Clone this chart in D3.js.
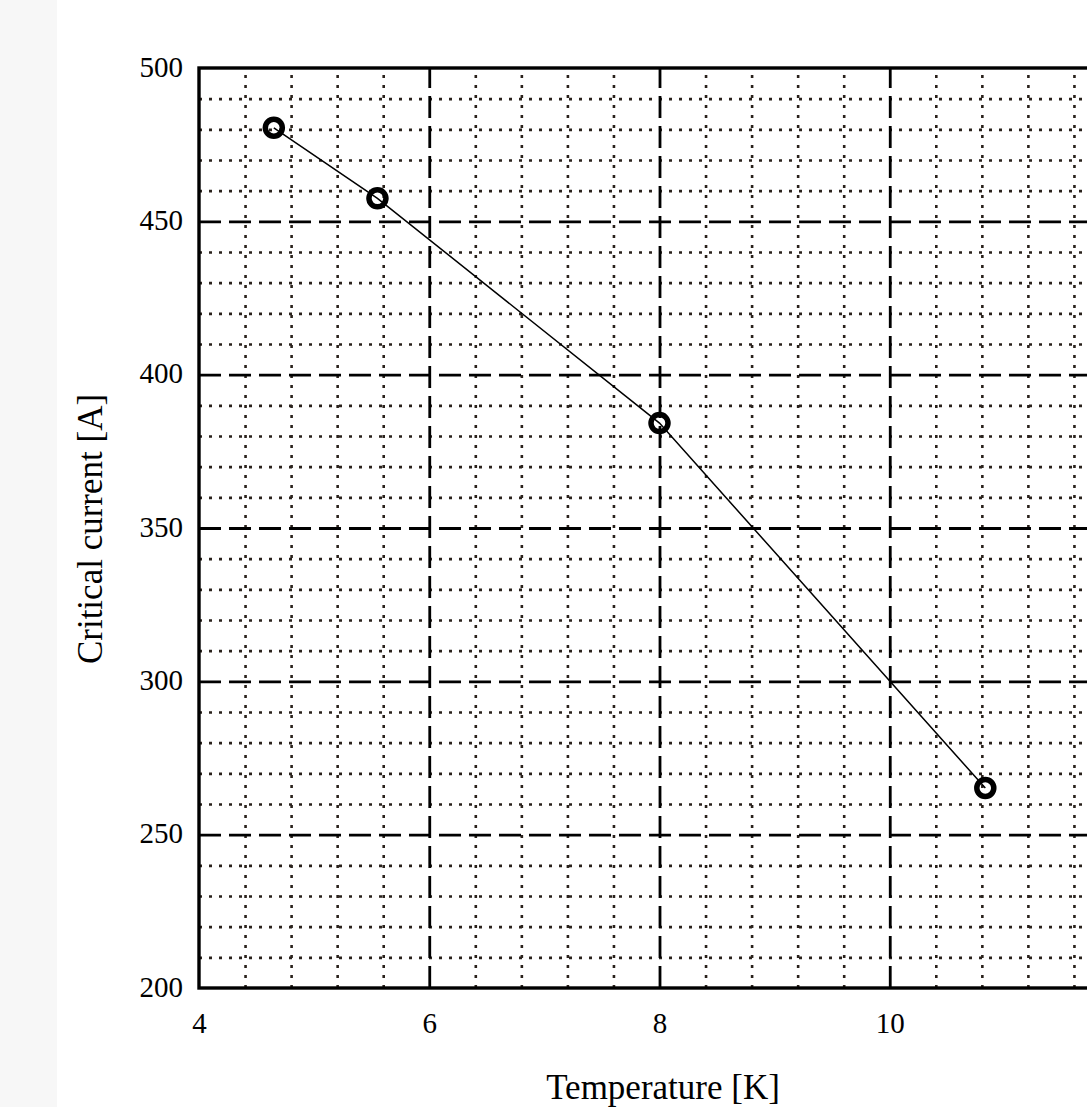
<!DOCTYPE html>
<html>
<head>
<meta charset="utf-8">
<script src="https://cdn.jsdelivr.net/npm/d3@7"></script>
<style>
  html, body { margin: 0; padding: 0; background: #fff; }
  svg { display: block; }
  text { font-family: "Liberation Serif", "DejaVu Serif", serif; fill: #000; }
</style>
</head>
<body>
<svg id="chart" width="1087" height="1107"></svg>
<script>
// ---- data ----
const temperature = [4.65, 5.55, 8.0, 10.83];
const criticalCurrent = [480.5, 457.5, 384.2, 265.2];
const xTickLabels = [4, 6, 8, 10];
const xMajorGrid = [6, 8, 10, 12];
const yTickLabels = [200, 250, 300, 350, 400, 450, 500];
const yMajorGrid = [250, 300, 350, 400, 450];
const xTitle = "Temperature [K]";
const yTitle = "Critical current [A]";

// ---- layout ----
const svg = d3.select("#chart");
const pL = 199, pT = 68, pB = 988, pR = 1120;
const x = d3.scaleLinear().domain([4, 12]).range([pL, pR]);
const y = d3.scaleLinear().domain([200, 500]).range([pB, pT]);

// light strip at far left
svg.append("rect").attr("x", 0).attr("y", 0).attr("width", 57).attr("height", 1107).attr("fill", "#f7f7f7");

const xMinor = d3.range(4.4, 12, 0.4).filter(v => xMajorGrid.every(m => Math.abs(m - v) > 1e-6));
const yMinor = d3.range(210, 500, 10).filter(v => yMajorGrid.every(m => Math.abs(m - v) > 1e-6) && v % 50 !== 0);

function gridStyle(g, dash, w, color) {
  g.select(".domain").remove();
  g.selectAll("text").remove();
  g.selectAll("line").attr("stroke", color).attr("stroke-width", w).attr("stroke-dasharray", dash);
}

// minor grid
svg.append("g").attr("transform", `translate(0,${pB})`)
  .call(d3.axisBottom(x).tickValues(xMinor).tickSize(-(pB - pT)).tickFormat(""))
  .call(g => gridStyle(g, "3,7", 2.6, "#2a221c"));
svg.append("g").attr("transform", `translate(${pL},0)`)
  .call(d3.axisLeft(y).tickValues(yMinor).tickSize(-(pR - pL)).tickFormat(""))
  .call(g => gridStyle(g, "3,7", 2.6, "#2a221c"));

// major grid
svg.append("g").attr("transform", `translate(0,${pB})`)
  .call(d3.axisBottom(x).tickValues(xMajorGrid).tickSize(-(pB - pT)).tickFormat(""))
  .call(g => gridStyle(g, "22,8", 2.8, "#000"));
svg.append("g").attr("transform", `translate(${pL},0)`)
  .call(d3.axisLeft(y).tickValues(yMajorGrid).tickSize(-(pR - pL)).tickFormat(""))
  .call(g => gridStyle(g, "22,8", 2.8, "#000"));

// frame
svg.append("rect").attr("x", pL).attr("y", pT).attr("width", pR - pL).attr("height", pB - pT)
  .attr("fill", "none").attr("stroke", "#000").attr("stroke-width", 3.4);

// tick labels via axes
const xAxis = svg.append("g").attr("transform", `translate(0,${pB})`)
  .call(d3.axisBottom(x).tickValues(xTickLabels).tickSize(0).tickPadding(0).tickFormat(d3.format("d")));
xAxis.select(".domain").remove();
xAxis.selectAll("text").attr("y", 45).attr("dy", 0).style("font-size", "29px")
  .style("font-family", '"Liberation Serif", serif').attr("fill", "#000");

const yAxis = svg.append("g").attr("transform", `translate(${pL},0)`)
  .call(d3.axisLeft(y).tickValues(yTickLabels).tickSize(0).tickPadding(0).tickFormat(d3.format("d")));
yAxis.select(".domain").remove();
yAxis.selectAll("text").attr("x", -16).attr("dy", "0.28em").style("font-size", "29px")
  .style("font-family", '"Liberation Serif", serif').attr("fill", "#000");

// titles
svg.append("text").attr("x", 663).attr("y", 1099).attr("text-anchor", "middle")
  .style("font-size", "35px").text(xTitle);
svg.append("text").attr("transform", "translate(102,529) rotate(-90)").attr("text-anchor", "middle")
  .style("font-size", "35px").text(yTitle);

// data line and markers
const pts = temperature.map((t, i) => [t, criticalCurrent[i]]);
svg.append("path").datum(pts)
  .attr("d", d3.line().x(d => x(d[0])).y(d => y(d[1])))
  .attr("fill", "none").attr("stroke", "#000").attr("stroke-width", 1.5);
svg.append("g").selectAll("circle").data(pts).join("circle")
  .attr("cx", d => x(d[0])).attr("cy", d => y(d[1])).attr("r", 8.5)
  .attr("fill", "none").attr("stroke", "#000").attr("stroke-width", 5.5);
</script>
</body>
</html>
